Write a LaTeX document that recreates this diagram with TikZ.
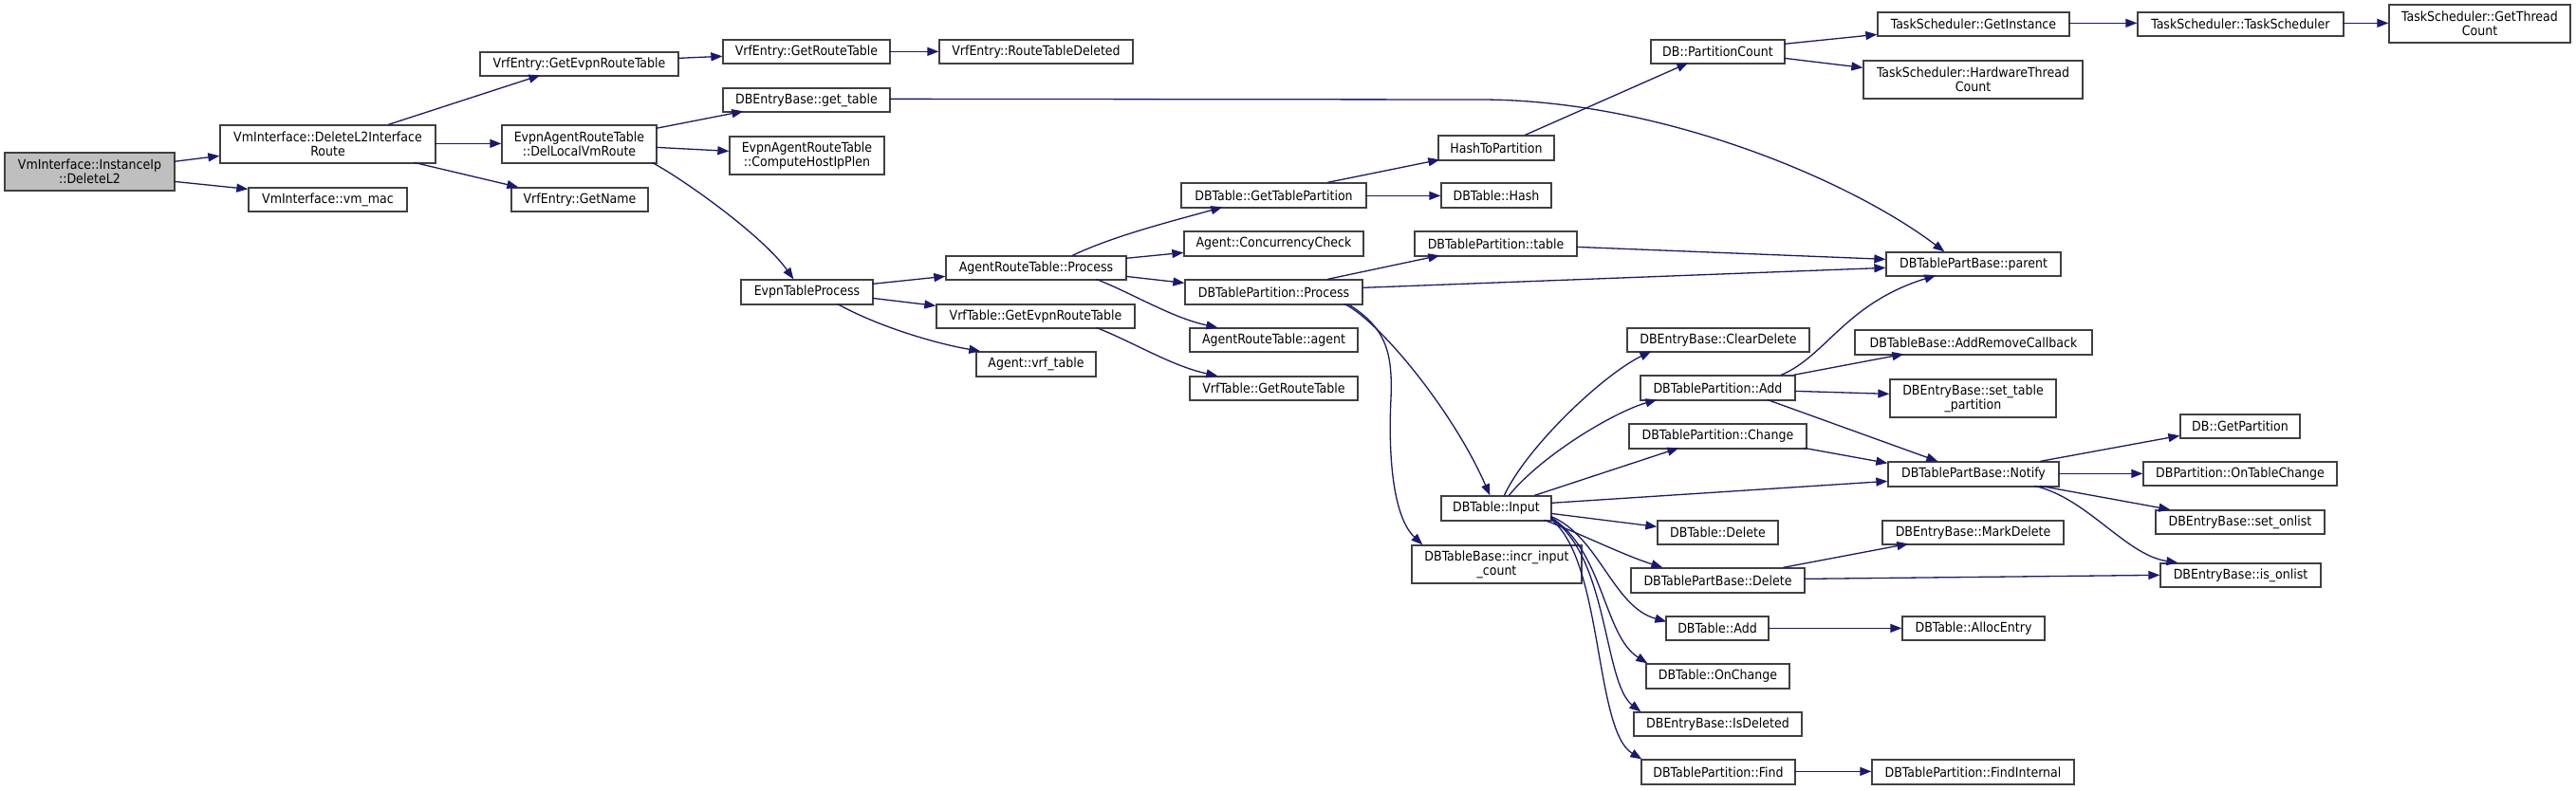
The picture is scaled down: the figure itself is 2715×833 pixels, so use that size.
\documentclass[tikz,border=0pt]{standalone}
\usepackage{fontspec}
\setmainfont{DejaVu Sans Condensed}
\usetikzlibrary{arrows.meta,calc}
\definecolor{edgec}{HTML}{191970}
\definecolor{boxc}{HTML}{404040}
\definecolor{rootc}{HTML}{BFBFBF}
\tikzset{
 fn/.style={draw=boxc, line width=1.3pt, fill=white, inner sep=0pt, align=center, font=\fontsize{14}{15}\selectfont},
 root/.style={fn, fill=rootc},
 call/.style={draw=edgec, line width=1.3pt, -{Triangle[length=12pt,width=9pt]}},
}
\newcommand\fnode[7][fn]{\node[#1, minimum width={(#5-#3)*1pt}, minimum height={(#6-#4)*1pt}] (#2) at ({(#3+#5)/2},{(#4+#6)/2}) {#7};}
\begin{document}
\begin{tikzpicture}[x=1pt,y=-1pt]
\path[use as bounding box, fill=white] (0,0) rectangle (2715,833);
\fnode[root]{n0}{5}{161}{184}{201}{VmInterface::InstanceIp\\::DeleteL2}
\fnode{n1}{232}{132}{459}{172}{VmInterface::DeleteL2Interface\\Route}
\fnode{n2}{262}{198}{429}{223}{VmInterface::vm\_mac}
\fnode{n3}{506}{55}{715}{80}{VrfEntry::GetEvpnRouteTable}
\fnode{n4}{529}{132}{692}{172}{EvpnAgentRouteTable\\::DelLocalVmRoute}
\fnode{n5}{539}{198}{683}{223}{VrfEntry::GetName}
\fnode{n6}{762}{42}{938}{67}{VrfEntry::GetRouteTable}
\fnode{n7}{990}{42}{1194}{67}{VrfEntry::RouteTableDeleted}
\fnode{n8}{762}{93}{938}{118}{DBEntryBase::get\_table}
\fnode{n9}{769}{144}{932}{184}{EvpnAgentRouteTable\\::ComputeHostIpPlen}
\fnode{n10}{781}{295}{920}{321}{EvpnTableProcess}
\fnode{n11}{997}{270}{1187}{295}{AgentRouteTable::Process}
\fnode{n12}{987}{321}{1196}{346}{VrfTable::GetEvpnRouteTable}
\fnode{n13}{1029}{371}{1155}{397}{Agent::vrf\_table}
\fnode{n14}{1245}{193}{1440}{219}{DBTable::GetTablePartition}
\fnode{n15}{1248}{244}{1437}{270}{Agent::ConcurrencyCheck}
\fnode{n16}{1249}{295}{1436}{321}{DBTablePartition::Process}
\fnode{n17}{1254}{346}{1431}{371}{AgentRouteTable::agent}
\fnode{n18}{1254}{397}{1431}{422}{VrfTable::GetRouteTable}
\fnode{n19}{1516}{143}{1638}{169}{HashToPartition}
\fnode{n20}{1519}{193}{1635}{219}{DBTable::Hash}
\fnode{n21}{1491}{244}{1662}{270}{DBTablePartition::table}
\fnode{n22}{1740}{42}{1881}{67}{DB::PartitionCount}
\fnode{n23}{1979}{13}{2181}{38}{TaskScheduler::GetInstance}
\fnode{n24}{1964}{64}{2195}{104}{TaskScheduler::HardwareThread\\Count}
\fnode{n25}{2253}{13}{2470}{38}{TaskScheduler::TaskScheduler}
\fnode{n26}{2518}{5}{2709}{45}{TaskScheduler::GetThread\\Count}
\fnode{n27}{1988}{266}{2172}{291}{DBTablePartBase::parent}
\fnode{n28}{1715}{346}{1907}{371}{DBEntryBase::ClearDelete}
\fnode{n29}{1955}{348}{2205}{374}{DBTableBase::AddRemoveCallback}
\fnode{n30}{1729}{396}{1892}{422}{DBTablePartition::Add}
\fnode{n31}{1992}{400}{2167}{440}{DBEntryBase::set\_table\\\_partition}
\fnode{n32}{1717}{447}{1904}{473}{DBTablePartition::Change}
\fnode{n33}{1990}{487}{2170}{513}{DBTablePartBase::Notify}
\fnode{n34}{1519}{523}{1635}{549}{DBTable::Input}
\fnode{n35}{1747}{549}{1874}{574}{DBTable::Delete}
\fnode{n36}{1984}{549}{2175}{574}{DBEntryBase::MarkDelete}
\fnode{n37}{1488}{575}{1667}{615}{DBTableBase::incr\_input\\\_count}
\fnode{n38}{1719}{599}{1902}{625}{DBTablePartBase::Delete}
\fnode{n39}{1756}{650}{1864}{675}{DBTable::Add}
\fnode{n40}{2005}{650}{2155}{675}{DBTable::AllocEntry}
\fnode{n41}{1735}{700}{1886}{726}{DBTable::OnChange}
\fnode{n42}{1722}{751}{1899}{776}{DBEntryBase::IsDeleted}
\fnode{n43}{1730}{801}{1892}{827}{DBTablePartition::Find}
\fnode{n44}{1973}{801}{2186}{827}{DBTablePartition::FindInternal}
\fnode{n45}{2298}{437}{2424}{462}{DB::GetPartition}
\fnode{n46}{2259}{487}{2463}{512}{DBPartition::OnTableChange}
\fnode{n47}{2272}{538}{2450}{563}{DBEntryBase::set\_onlist}
\fnode{n48}{2277}{594}{2446}{619}{DBEntryBase::is\_onlist}

\draw[call] ($(n0.north west)+(179,10)$) -- ($(n1.north west)+(0,33)$);
\draw[call] ($(n0.north west)+(179,31)$) -- ($(n2.north west)+(0,2)$);
\draw[call] ($(n1.north west)+(178,0)$) -- ($(n3.north west)+(64,25)$);
\draw[call] ($(n1.north west)+(227,20)$) -- ($(n4.north west)+(0,20)$);
\draw[call] ($(n1.north west)+(205,40)$) -- ($(n5.north west)+(8,0)$);
\draw[call] ($(n3.north west)+(209,7)$) -- ($(n6.north west)+(0,18)$);
\draw[call] ($(n6.north west)+(176,13)$) -- ($(n7.north west)+(0,13)$);
\draw[call] ($(n4.north west)+(163,4)$) -- ($(n8.north west)+(22,25)$);
\draw[call] ($(n4.north west)+(163,24)$) -- ($(n9.north west)+(0,16)$);
\draw[call] ($(n4.north west)+(159,40)$) .. controls (725,192) and (805,250) .. ($(n10.north west)+(56,0)$);
\draw[call] ($(n8.north west)+(176,12)$) -- (1560,105) .. controls (1750,105) and (1950,190) .. ($(n27.north west)+(62,0)$);
\draw[call] ($(n10.north west)+(139,5)$) -- ($(n11.north west)+(0,22)$);
\draw[call] ($(n10.north west)+(139,20)$) -- ($(n12.north west)+(0,2)$);
\draw[call] ($(n10.north west)+(102,26)$) .. controls (925,344) and (985,362) .. ($(n13.north west)+(5,0)$);
\draw[call] ($(n11.north west)+(134,0)$) .. controls (1175,248) and (1240,232) .. ($(n14.north west)+(44,26)$);
\draw[call] ($(n11.north west)+(190,3)$) -- ($(n15.north west)+(0,23)$);
\draw[call] ($(n11.north west)+(190,22)$) -- ($(n16.north west)+(0,4)$);
\draw[call] ($(n11.north west)+(159,25)$) .. controls (1195,310) and (1235,335) .. ($(n17.north west)+(30,0)$);
\draw[call] ($(n12.north west)+(169,25)$) .. controls (1195,361) and (1235,386) .. ($(n18.north west)+(30,0)$);
\draw[call] ($(n14.north west)+(155,0)$) -- ($(n19.north west)+(2,26)$);
\draw[call] ($(n14.north west)+(195,14)$) -- ($(n20.north west)+(0,14)$);
\draw[call] ($(n19.north west)+(92,0)$) -- ($(n22.north west)+(40,25)$);
\draw[call] ($(n22.north west)+(141,5)$) -- ($(n23.north west)+(0,24)$);
\draw[call] ($(n22.north west)+(141,20)$) -- ($(n24.north west)+(0,8)$);
\draw[call] ($(n23.north west)+(202,12)$) -- ($(n25.north west)+(0,12)$);
\draw[call] ($(n25.north west)+(217,12)$) -- ($(n26.north west)+(0,20)$);
\draw[call] ($(n16.north west)+(151,0)$) -- ($(n21.north west)+(27,26)$);
\draw[call] ($(n16.north west)+(188,9)$) -- ($(n27.north west)+(0,17)$);
\draw[call] ($(n21.north west)+(171,17)$) -- ($(n27.north west)+(0,8)$);
\draw[call] ($(n16.north west)+(168,26)$) .. controls (1450,335) and (1530,430) .. ($(n34.north west)+(52,0)$);
\draw[call] ($(n16.north west)+(172,26)$) .. controls (1460,345) and (1468,370) .. (1466,420) .. controls (1463,480) and (1468,545) .. ($(n37.north west)+(12,0)$);
\draw[call] ($(n34.north west)+(67,0)$) .. controls (1610,470) and (1690,395) .. ($(n28.north west)+(26,25)$);
\draw[call] ($(n34.north west)+(72,0)$) .. controls (1625,480) and (1700,435) .. ($(n30.north west)+(18,26)$);
\draw[call] ($(n34.north west)+(99,0)$) -- ($(n32.north west)+(53,26)$);
\draw[call] ($(n34.north west)+(116,8)$) -- ($(n33.north west)+(0,21)$);
\draw[call] ($(n34.north west)+(116,19)$) -- ($(n35.north west)+(0,7)$);
\draw[call] ($(n34.north west)+(109,26)$) .. controls (1660,560) and (1710,585) .. ($(n38.north west)+(34,0)$);
\draw[call] ($(n34.north west)+(116,22)$) .. controls (1685,565) and (1700,640) .. ($(n39.north west)+(1,6)$);
\draw[call] ($(n34.north west)+(116,23)$) .. controls (1690,580) and (1690,670) .. ($(n41.north west)+(2,0)$);
\draw[call] ($(n34.north west)+(116,24)$) .. controls (1695,585) and (1690,720) .. ($(n42.north west)+(8,0)$);
\draw[call] ($(n34.north west)+(116,25)$) .. controls (1690,590) and (1680,770) .. ($(n43.north west)+(1,0)$);
\draw[call] ($(n30.north west)+(149,0)$) .. controls (1925,375) and (1945,320) .. ($(n27.north west)+(53,25)$);
\draw[call] ($(n30.north west)+(162,0)$) -- ($(n29.north west)+(52,26)$);
\draw[call] ($(n30.north west)+(163,17)$) -- ($(n31.north west)+(0,16)$);
\draw[call] ($(n30.north west)+(134,26)$) -- ($(n33.north west)+(53,0)$);
\draw[call] ($(n32.north west)+(185,26)$) -- ($(n33.north west)+(0,2)$);
\draw[call] ($(n33.north west)+(161,0)$) -- ($(n45.north west)+(0,23)$);
\draw[call] ($(n33.north west)+(180,13)$) -- ($(n46.north west)+(0,13)$);
\draw[call] ($(n33.north west)+(161,26)$) -- ($(n47.north west)+(16,0)$);
\draw[call] ($(n33.north west)+(155,26)$) .. controls (2200,525) and (2240,585) .. ($(n48.north west)+(19,0)$);
\draw[call] ($(n38.north west)+(161,0)$) -- ($(n36.north west)+(28,25)$);
\draw[call] ($(n38.north west)+(183,12)$) -- ($(n48.north west)+(0,13)$);
\draw[call] ($(n39.north west)+(108,13)$) -- ($(n40.north west)+(0,13)$);
\draw[call] ($(n43.north west)+(162,13)$) -- ($(n44.north west)+(0,13)$);
\end{tikzpicture}
\end{document}
